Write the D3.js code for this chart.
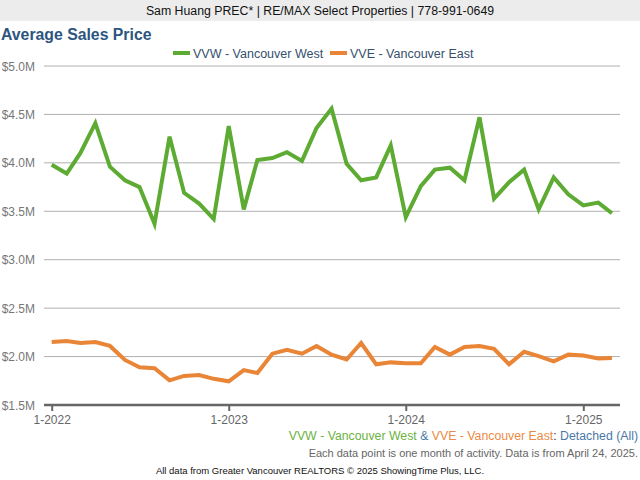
<!DOCTYPE html>
<html>
<head>
<meta charset="utf-8">
<script src="https://cdn.jsdelivr.net/npm/d3@7"></script>
<style>
  html, body { margin: 0; padding: 0; background: #fff; }
  svg { display: block; font-family: "Liberation Sans", Arial, Helvetica, sans-serif; }
</style>
</head>
<body>
<svg id="chart" width="640" height="480"></svg>
<script>
// ---- Data ----
const startYear = 2022, startMonth = 0; // Jan 2022
const vvwValues = [3.98, 3.89, 4.10, 4.41, 3.96, 3.82, 3.75, 3.37, 4.27, 3.69, 3.58, 3.42,
                   4.38, 3.52, 4.03, 4.05, 4.11, 4.02, 4.36, 4.56, 3.99, 3.82, 3.85, 4.18,
                   3.44, 3.76, 3.93, 3.95, 3.82, 4.47, 3.63, 3.80, 3.93, 3.52, 3.85, 3.675,
                   3.56, 3.59, 3.48];
const vveValues = [2.15, 2.16, 2.14, 2.15, 2.11, 1.965, 1.89, 1.88, 1.755, 1.80, 1.81, 1.77,
                   1.745, 1.86, 1.83, 2.03, 2.07, 2.03, 2.11, 2.02, 1.97, 2.14, 1.92, 1.94,
                   1.93, 1.93, 2.10, 2.02, 2.10, 2.11, 2.08, 1.92, 2.05, 2.005, 1.95, 2.02,
                   2.01, 1.98, 1.985];
const yTicks = [1.5, 2.0, 2.5, 3.0, 3.5, 4.0, 4.5, 5.0];
const xTickLabels = ["1-2022", "1-2023", "1-2024", "1-2025"];
const seriesNames = ["VVW - Vancouver West", "VVE - Vancouver East"];

const months = vvwValues.map((_, i) => new Date(startYear, startMonth + i, 1));

// ---- Setup ----
const svg = d3.select("#chart");
const green = "#5dab32", orange = "#e98536";

svg.append("rect").attr("x", 0).attr("y", 0).attr("width", 640).attr("height", 21).attr("fill", "#ececec");
svg.append("text").attr("x", 320).attr("y", 15).attr("text-anchor", "middle")
  .attr("font-size", 12.3).attr("fill", "#111")
  .text("Sam Huang PREC* | RE/MAX Select Properties | 778-991-0649");

svg.append("text").attr("x", 1).attr("y", 40).attr("font-size", 15.8).attr("font-weight", "bold")
  .attr("fill", "#2c557f").text("Average Sales Price");

// Legend
const legend = [{name: seriesNames[0], color: green, x: 173}, {name: seriesNames[1], color: orange, x: 330}];
legend.forEach(l => {
  svg.append("rect").attr("x", l.x).attr("y", 51).attr("width", 17).attr("height", 4).attr("fill", l.color);
  svg.append("text").attr("x", l.x + 20).attr("y", 58).attr("font-size", 12.5).attr("fill", "#34506e").text(l.name);
});

// Scales
const x = d3.scaleTime()
  .domain([new Date(2022, 0, 1), new Date(2025, 0, 1)])
  .range([51.7, 583.3]);
const y = d3.scaleLinear().domain([1.5, 5.0]).range([405, 66]);

// Gridlines
svg.append("g").selectAll("line").data(yTicks.filter(t => t > 1.5)).join("line")
  .attr("x1", 44).attr("x2", 620).attr("y1", d => y(d)).attr("y2", d => y(d))
  .attr("stroke", "#b0b0b0").attr("stroke-width", 1);

// Y labels
svg.append("g").selectAll("text").data(yTicks).join("text")
  .attr("x", 35).attr("y", d => y(d) + 4.5).attr("text-anchor", "end")
  .attr("font-size", 12).attr("fill", "#777")
  .text(d => "$" + d.toFixed(1) + "M");

// X axis
const xTickDates = xTickLabels.map(s => new Date(+s.split("-")[1], 0, 1));
const xAxis = d3.axisBottom(x).tickValues(xTickDates).tickSize(6).tickPadding(4)
  .tickFormat((d, i) => xTickLabels[i]);
const gx = svg.append("g").attr("transform", "translate(0,405)").call(xAxis);
gx.select(".domain").remove();
gx.selectAll(".tick line").attr("stroke", "#666").attr("stroke-width", 2);
gx.selectAll(".tick text").attr("font-size", 12).attr("fill", "#666")
  .attr("font-family", "Liberation Sans, Arial, sans-serif");
svg.append("line").attr("x1", 44).attr("x2", 620).attr("y1", 405).attr("y2", 405)
  .attr("stroke", "#666").attr("stroke-width", 2.5);

// Lines
const line = d3.line().x((d, i) => x(months[i])).y(d => y(d));
[[vvwValues, green], [vveValues, orange]].forEach(([vals, c]) => {
  svg.append("path").datum(vals).attr("d", line).attr("fill", "none")
    .attr("stroke", c).attr("stroke-width", 4).attr("stroke-linejoin", "miter")
    .attr("stroke-linecap", "butt");
});

// Footer
const f1 = svg.append("text").attr("x", 638).attr("y", 440).attr("text-anchor", "end").attr("font-size", 12.3);
f1.append("tspan").attr("fill", "#6cb33f").text("VVW - Vancouver West");
f1.append("tspan").attr("fill", "#4a78a8").text(" & ");
f1.append("tspan").attr("fill", "#eb8a45").text("VVE - Vancouver East");
f1.append("tspan").attr("fill", "#333").text(": ");
f1.append("tspan").attr("fill", "#4a78a8").text("Detached (All)");

svg.append("text").attr("x", 638).attr("y", 457).attr("text-anchor", "end").attr("font-size", 11)
  .attr("fill", "#666").text("Each data point is one month of activity. Data is from April 24, 2025.");

svg.append("text").attr("x", 320).attr("y", 474).attr("text-anchor", "middle").attr("font-size", 9.5)
  .attr("fill", "#111").text("All data from Greater Vancouver REALTORS © 2025 ShowingTime Plus, LLC.");
</script>
</body>
</html>
